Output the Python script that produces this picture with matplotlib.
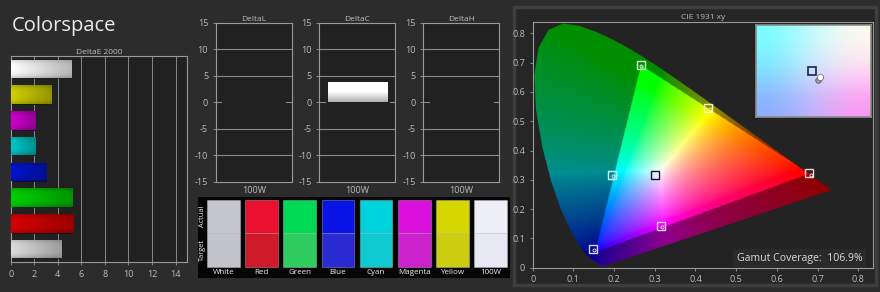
import numpy as np
import matplotlib
matplotlib.use("Agg")
import matplotlib.pyplot as plt
from matplotlib.patches import Rectangle, Polygon
from matplotlib.path import Path

plt.rcParams['font.family'] = ['Open Sans', 'DejaVu Sans']
plt.rcParams['axes.unicode_minus'] = False

# ----------------------------
# DATOS
# ----------------------------
de_labels = ["White", "Yellow", "Magenta", "Cyan", "Blue", "Green", "Red", "100W"]
de_values = [5.1, 3.4, 2.1, 2.1, 3.0, 5.2, 5.3, 4.3]
de_colors = ["#ffffff", "#d0d000", "#d000d0", "#00c8c8", "#0014d0", "#00d000", "#d80000", "#dcdcdc"]

delta_titles = ["DeltaL", "DeltaC", "DeltaH"]
delta_values = [0.0, 3.8, 0.0]
delta_cat = "100W"

sw_names = ["White", "Red", "Green", "Blue", "Cyan", "Magenta", "Yellow", "100W"]
sw_actual = ["#c5c5cd", "#ec1030", "#00da55", "#0a14e6", "#00d2dc", "#dc10dc", "#d6d600", "#eeeef8"]
sw_target = ["#c3c3cb", "#cf1a2a", "#30cc60", "#2a2ad2", "#10cad2", "#cc22cc", "#cccc10", "#e8e8f4"]

# locus espectral CIE 1931 (380..700 nm)
locus_x = [0.1741, 0.1733, 0.1714, 0.1689, 0.1644, 0.1566, 0.1440, 0.1355, 0.1241, 0.1096,
           0.0913, 0.0687, 0.0454, 0.0235, 0.0082, 0.0039, 0.0139, 0.0389, 0.0743, 0.1142,
           0.1547, 0.1929, 0.2296, 0.2658, 0.3016, 0.3373, 0.3731, 0.4087, 0.4441, 0.4788,
           0.5125, 0.5448, 0.5752, 0.6029, 0.6270, 0.6482, 0.6658, 0.6915, 0.7079, 0.7190,
           0.7260, 0.7300, 0.7334, 0.7347]
locus_y = [0.0050, 0.0048, 0.0051, 0.0069, 0.0109, 0.0177, 0.0297, 0.0399, 0.0578, 0.0868,
           0.1327, 0.2007, 0.2950, 0.4127, 0.5384, 0.6548, 0.7502, 0.8120, 0.8338, 0.8262,
           0.8059, 0.7816, 0.7543, 0.7243, 0.6923, 0.6589, 0.6245, 0.5896, 0.5547, 0.5202,
           0.4866, 0.4544, 0.4242, 0.3965, 0.3725, 0.3514, 0.3340, 0.3083, 0.2920, 0.2809,
           0.2740, 0.2700, 0.2666, 0.2653]

gamut_x = [0.680, 0.265, 0.152]
gamut_y = [0.320, 0.690, 0.052]

target_x = [0.680, 0.265, 0.147, 0.431, 0.196, 0.315, 0.300]
target_y = [0.322, 0.692, 0.064, 0.544, 0.316, 0.142, 0.316]
target_ec = ["#ffd0d0", "#e0ffd0", "#d0d8ff", "#fff0c0", "#d0ffff", "#ffd0ff", "#101828"]
meas_x = [0.683, 0.267, 0.150, 0.436, 0.198, 0.318, 0.303]
meas_y = [0.318, 0.689, 0.061, 0.541, 0.313, 0.139, 0.3136]

wp_target = (0.300, 0.316)
wp_meas = [(0.3032, 0.3136), (0.3023, 0.3125)]
coverage = 106.9

BG = "#2c2c2c"
AXBG = "#212121"
TXT = "#bdbdbd"
SP = "#9a9a9a"

fig = plt.figure(figsize=(8.8, 2.92), dpi=100, facecolor=BG)

fig.text(12 / 880, 1 - 31 / 292, "Colorspace", fontsize=14.5, color="#ececec")


def estilo(ax):
    ax.set_facecolor(AXBG)
    for s in ax.spines.values():
        s.set_color(SP)
        s.set_linewidth(0.8)
    ax.tick_params(colors=SP, labelcolor=TXT, labelsize=6.5, length=2, width=0.6)


# ----------------------------
# DeltaE 2000
# ----------------------------
ax = fig.add_axes([10.7 / 880, 1 - 262 / 292, 176.6 / 880, 206 / 292])
estilo(ax)
ax.set_title("DeltaE 2000", fontsize=6, color=TXT, pad=1.5)
ax.set_axisbelow(True)
ax.grid(axis="x", color="#8a8a8a", lw=0.7)
pos = np.arange(len(de_values))
bars = ax.barh(pos, de_values, height=0.72, color=de_colors, edgecolor="#0c0c0c", lw=0.6, zorder=2)
hf = np.linspace(1.0, 0.72, 60)
vf = 1 - 0.18 * np.abs(np.linspace(-1, 1, 24)) ** 3
for b, c, v in zip(bars, de_colors, de_values):
    base = np.array(matplotlib.colors.to_rgb(c))
    img = base[None, None, :] * (vf[:, None, None] * hf[None, :, None])
    y0 = b.get_y()
    im = ax.imshow(img, extent=(0, v, y0 + b.get_height(), y0), aspect="auto", zorder=3)
    im.set_clip_path(b)
ax.set_xlim(0, 15)
ax.set_ylim(len(de_values) - 0.5, -0.5)
ax.set_xticks(np.arange(0, 15, 2))
ax.set_yticks([])

# ----------------------------
# DeltaL / DeltaC / DeltaH
# ----------------------------
lefts = [215.7, 319.3, 423.3]
gf = np.concatenate([np.ones(30), np.linspace(1.0, 0.68, 30)])
for left, tit, val in zip(lefts, delta_titles, delta_values):
    ax = fig.add_axes([left / 880, 1 - 181.7 / 292, 76 / 880, 159 / 292])
    estilo(ax)
    ax.set_title(tit, fontsize=6, color=TXT, pad=1.5)
    for g in [-10, -5, 5, 10]:
        ax.axhline(g, color="#8a8a8a", lw=0.8)
    ax.axhline(0, xmin=0, xmax=0.07, color="#8a8a8a", lw=0.8)
    ax.axhline(0, xmin=0.93, xmax=1, color="#8a8a8a", lw=0.8)
    b = ax.bar([0], [val], width=0.78, color="white", edgecolor="none", zorder=2)[0]
    if val != 0:
        img = np.ones((60, 2, 3)) * gf[:, None, None]
        im = ax.imshow(img, extent=(-0.39, 0.39, 0, val), aspect="auto", zorder=3)
        im.set_clip_path(b)
    ax.set_xlim(-0.5, 0.5)
    ax.set_ylim(-15, 15)
    ax.set_yticks(np.arange(-15, 16, 5))
    ax.set_xticks([0])
    ax.set_xticklabels([delta_cat])
    ax.tick_params(axis="x", length=0, pad=3)

# ----------------------------
# MUESTRAS Actual / Target
# ----------------------------
ax = fig.add_axes([197.7 / 880, 1 - 277.7 / 292, 312.3 / 880, 80.4 / 292])
ax.set_facecolor("#050505")
for s in ax.spines.values():
    s.set_visible(False)
xs = np.arange(len(sw_names))
ax.bar(xs, 32.7, bottom=2.7, width=0.856, color=sw_actual, edgecolor=(1, 1, 1, 0.3), lw=0.6)
ax.bar(xs, 34.0, bottom=35.4, width=0.856, color=sw_target, edgecolor=(1, 1, 1, 0.3), lw=0.6)
for x, n in zip(xs, sw_names):
    ax.text(x, 75, n, ha="center", va="center", fontsize=5.8, color="#f0f0f0")
ax.text(-0.55, 18.7, "Actual", rotation=90, ha="center", va="center", fontsize=5.3, color="#f0f0f0")
ax.text(-0.55, 52.4, "Target", rotation=90, ha="center", va="center", fontsize=5.3, color="#f0f0f0")
ax.set_xlim(-0.67, 7.505)
ax.set_ylim(80.4, 0)
ax.set_xticks([])
ax.set_yticks([])

# ----------------------------
# CIE 1931 xy
# ----------------------------
fig.patches.append(Rectangle((514 / 880, 1 - 285 / 292), 362 / 880, 278 / 292,
                             transform=fig.transFigure, fc="#262626", ec="#3e3e3e", lw=2.5, zorder=-5))

ax = fig.add_axes([532.7 / 880, 1 - 267.7 / 292, 340.6 / 880, 246 / 292])
estilo(ax)
ax.set_facecolor("#232323")
ax.set_title("CIE 1931 xy", fontsize=6, color=TXT, pad=2)

n = 500
gx = np.linspace(0, 0.84, n)
gy = np.linspace(0.002, 0.84, n)
X, Y = np.meshgrid(gx, gy)
XX = X / Y
ZZ = (1 - X - Y) / Y
R = 3.2406 * XX - 1.5372 - 0.4986 * ZZ
G = -0.9689 * XX + 1.8758 + 0.0415 * ZZ
B = 0.0557 * XX - 0.2040 + 1.0570 * ZZ
rgb = np.clip(np.stack([R, G, B], -1), 0, None)
rgb = rgb / (rgb.max(-1, keepdims=True) + 1e-9)
rgb = rgb ** (1 / 1.5)
tri = Path(np.column_stack([gamut_x, gamut_y]))
inside = tri.contains_points(np.column_stack([X.ravel(), Y.ravel()])).reshape(X.shape)
rgb[~inside] *= 0.56
im = ax.imshow(rgb, extent=(0, 0.84, 0.002, 0.84), origin="lower", aspect="auto",
               interpolation="bilinear", zorder=1)
locus = Polygon(np.column_stack([locus_x, locus_y]), closed=True, fc="none", ec="none")
ax.add_patch(locus)
im.set_clip_path(locus)

for tx, ty, ec in zip(target_x, target_y, target_ec):
    ax.plot(tx, ty, "s", ms=5.5, mfc="none", mec=ec, mew=1.0, zorder=4)
ax.plot(meas_x, meas_y, "o", ms=2.2, mfc="none", mec="#f4f4f4", mew=0.6, zorder=5)

ax.text(0.969, 0.037, "Gamut Coverage:  %.1f%%" % coverage, transform=ax.transAxes,
        ha="right", va="center", fontsize=7.6, color="#dadada", zorder=6,
        bbox=dict(boxstyle="square,pad=0.35", fc="#2a2a2a", ec="none"))

ax.set_xlim(0, 0.837)
ax.set_ylim(0, 0.84)
ax.set_xticks(np.arange(0, 0.81, 0.1))
ax.set_xticklabels(["0"] + ["%.1f" % v for v in np.arange(0.1, 0.81, 0.1)])
ax.set_yticks(np.arange(0, 0.81, 0.1))
ax.set_yticklabels(["0"] + ["%.1f" % v for v in np.arange(0.1, 0.81, 0.1)])

# detalle del punto blanco
axi = fig.add_axes([755.7 / 880, 1 - 116.7 / 292, 115 / 880, 91.7 / 292])
grid = np.array([[[120, 255, 255], [200, 252, 255], [255, 250, 236]],
                 [[125, 225, 255], [215, 230, 255], [255, 218, 245]],
                 [[140, 172, 255], [192, 180, 255], [255, 150, 240]]]) / 255
xlo, xhi = 0.2775, 0.3235
ylo, yhi = 0.2978, 0.3345
axi.imshow(grid, extent=(xlo, xhi, ylo, yhi), aspect="auto", interpolation="bicubic")
axi.plot(*wp_target, "s", ms=6, mfc="none", mec="#1c2440", mew=1.2)
axi.plot(*wp_meas[1], "o", ms=4, mfc="#9a9aa8", mec="#606070", mew=0.6)
axi.plot(*wp_meas[0], "o", ms=4.5, mfc="white", mec="#707080", mew=0.6)
axi.set_xlim(xlo, xhi)
axi.set_ylim(ylo, yhi)
axi.set_xticks([])
axi.set_yticks([])
for s in axi.spines.values():
    s.set_color("#8c8c8c")
    s.set_linewidth(1.2)

fig.savefig("out.png", dpi=100, facecolor=BG)
